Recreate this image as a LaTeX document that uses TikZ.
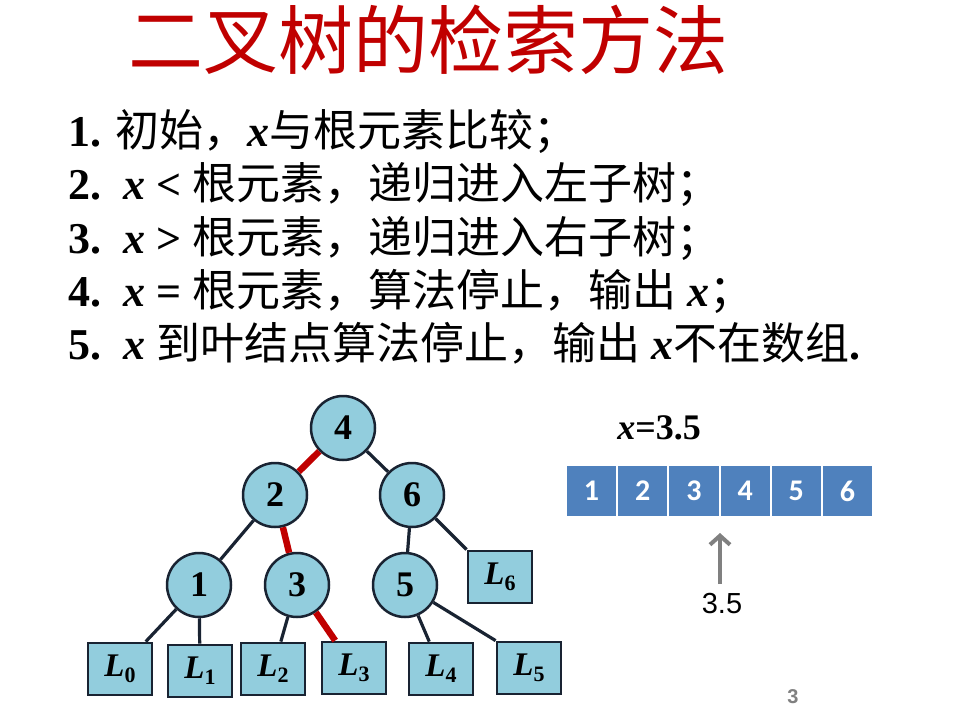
\documentclass[tikz,border=0pt]{standalone}
\usepackage{fontspec}
\setmainfont{Liberation Serif}
\newfontfamily\cjkfont{Noto Sans CJK SC}
\newfontfamily\arialfont{Liberation Sans}
\newfontfamily\calibrifont{Carlito}
\usetikzlibrary{positioning,arrows.meta}

\definecolor{titlered}{RGB}{192,0,0}
\definecolor{nodeblue}{RGB}{146,205,221}
\definecolor{nodeline}{RGB}{25,35,50}
\definecolor{cellblue}{RGB}{79,129,189}
\definecolor{arrowgray}{RGB}{128,128,128}

\newcommand{\leafname}[1]{\textit{L}\raisebox{-6pt}{\fontsize{22}{22}\selectfont\upshape\bfseries #1}}
\newcommand{\xb}{\textbf{\textit{x}}}

\begin{document}
\begin{tikzpicture}[x=1pt, y=-1pt,
  every node/.style = {inner sep=0pt},
  item/.style    = {anchor=base west, font=\fontsize{44}{50}\selectfont},
  keynode/.style = {circle, draw=nodeline, line width=2.5pt, fill=nodeblue, minimum size=64pt, font=\fontsize{36}{36}\selectfont\bfseries},
  leaf/.style    = {rectangle, draw=nodeline, line width=2.8pt, fill=nodeblue, minimum width=64pt, minimum height=52pt, font=\fontsize{33}{33}\selectfont\bfseries\itshape},
  cell/.style    = {rectangle, draw=white, line width=1pt, fill=cellblue, minimum width=50.2pt, minimum height=51pt, text=white, font=\fontsize{30}{30}\calibrifont\bfseries},
  link/.style    = {line width=3.2pt, nodeline},
  hit/.style     = {line width=6.5pt, titlered}
]
\useasboundingbox (0,0) rectangle (966,718);

\node[font=\fontsize{75}{75}\selectfont\cjkfont, text=titlered] (title) at (428,40) {二叉树的检索方法};

\node[item] (rule1) at (68,146) {\textbf{1.} {\cjkfont 初始，}\xb{\cjkfont 与根元素比较；}};
\node[item] (rule2) at (68,199) {\textbf{2.\ \ \textit{x} <} {\cjkfont 根元素，递归进入左子树；}};
\node[item] (rule3) at (68,253) {\textbf{3.\ \ \textit{x} >} {\cjkfont 根元素，递归进入右子树；}};
\node[item] (rule4) at (68,306) {\textbf{4.\ \ \textit{x} =} {\cjkfont 根元素，算法停止，输出} \xb{\cjkfont ；}};
\node[item] (rule5) at (68,359) {\textbf{5.\ \ \textit{x}} {\cjkfont 到叶结点算法停止，输出} \xb{\cjkfont 不在数组}\textbf{.}};

% search tree
\node[keynode] (n4) at (343,428) {4};
\node[keynode] (n2) at (275,495) {2};
\node[keynode] (n6) at (412,495) {6};
\node[keynode] (n1) at (199,585) {1};
\node[keynode] (n3) at (297,585) {3};
\node[keynode] (n5) at (405,585) {5};
\node[leaf] (l6) at (500,577) {\leafname{6}};
\node[leaf] (l0) at (120,669) {\leafname{0}};
\node[leaf] (l1) at (200,671) {\leafname{1}};
\node[leaf] (l2) at (273,669) {\leafname{2}};
\node[leaf] (l3) at (354,668) {\leafname{3}};
\node[leaf] (l4) at (441,669) {\leafname{4}};
\node[leaf] (l5) at (529,668) {\leafname{5}};

\draw[hit]  (n4) -- (n2);
\draw[link] (n4) -- (n6);
\draw[link] (n2) -- (n1);
\draw[hit]  (n2) -- (n3);
\draw[link] (n6) -- (n5);
\draw[link] (n6) -- (l6.north west);
\draw[link] (n1) -- (l0);
\draw[link] (n1) -- (l1);
\draw[link] (n3) -- (l2);
\draw[hit]  (n3) -- (l3);
\draw[link] (n5) -- (l4);
\draw[link] (n5) -- (l5.north west);

% sorted array
\node[font=\fontsize{36}{36}\selectfont\bfseries] (xval) at (659,428) {\textit{x}=3.5};
\node[cell] (c1) at (591.5,491) {1};
\node[cell, right=0pt of c1] (c2) {2};
\node[cell, right=0pt of c2] (c3) {3};
\node[cell, right=0pt of c3] (c4) {4};
\node[cell, right=0pt of c4] (c5) {5};
\node[cell, right=0pt of c5] (c6) {6};

\coordinate (tip) at (720,533);
\node[font=\arialfont\fontsize{29}{29}\selectfont] (probe) at (722,604) {3.5};
\draw[-{Straight Barb[length=9pt,width=20pt,line width=4pt]}, arrowgray, line width=4pt, shorten <=20pt] (probe.center -| tip) -- (tip);

\node[font=\arialfont\bfseries\fontsize{20}{20}\selectfont, text=arrowgray] (pageno) at (793,697) {3};
\end{tikzpicture}
\end{document}
